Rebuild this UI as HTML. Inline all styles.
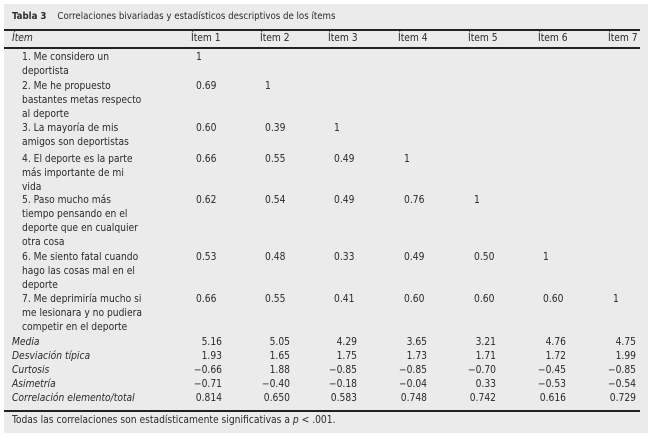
<!DOCTYPE html>
<html><head><meta charset="utf-8"><style>
body{margin:0;width:654px;height:438px;background:#fff;position:relative;overflow:hidden;font-family:"DejaVu Sans Condensed","Liberation Sans",sans-serif;font-size:10.2px;color:#2a2a2a}
#box{position:absolute;left:4px;top:4px;width:644px;height:429px;background:#ebebeb}
.t{position:absolute;white-space:nowrap;line-height:14px}
.r{text-align:right;width:50px}
.i{font-style:italic}
.rule{position:absolute;left:4px;width:636px;height:1.5px;background:#222}
</style></head><body>
<div id="box"></div>
<div class="t" style="left:12px;top:10px;font-size:9.6px"><b>Tabla 3</b>&nbsp;&nbsp;&nbsp; Correlaciones bivariadas y estadísticos descriptivos de los ítems</div>
<div class="rule" style="top:29px"></div>
<div class="t i" style="left:12px;top:32px">Ítem</div>
<div class="t" style="left:191px;top:32px">Ítem 1</div>
<div class="t" style="left:260px;top:32px">Ítem 2</div>
<div class="t" style="left:328px;top:32px">Ítem 3</div>
<div class="t" style="left:398px;top:32px">Ítem 4</div>
<div class="t" style="left:468px;top:32px">Ítem 5</div>
<div class="t" style="left:538px;top:32px">Ítem 6</div>
<div class="t" style="left:608px;top:32px">Ítem 7</div>
<div class="rule" style="top:47px"></div>

<div class="t" style="left:22px;top:51px">1. Me considero un<br>deportista</div>
<div class="t" style="left:196px;top:51px">1</div>

<div class="t" style="left:22px;top:80px">2. Me he propuesto<br>bastantes metas respecto<br>al deporte</div>
<div class="t" style="left:196px;top:80px">0.69</div><div class="t" style="left:265px;top:80px">1</div>

<div class="t" style="left:22px;top:122px">3. La mayoría de mis<br>amigos son deportistas</div>
<div class="t" style="left:196px;top:122px">0.60</div><div class="t" style="left:265px;top:122px">0.39</div><div class="t" style="left:334px;top:122px">1</div>

<div class="t" style="left:22px;top:153px">4. El deporte es la parte<br>más importante de mi<br>vida</div>
<div class="t" style="left:196px;top:153px">0.66</div><div class="t" style="left:265px;top:153px">0.55</div><div class="t" style="left:334px;top:153px">0.49</div><div class="t" style="left:404px;top:153px">1</div>

<div class="t" style="left:22px;top:194px">5. Paso mucho más<br>tiempo pensando en el<br>deporte que en cualquier<br>otra cosa</div>
<div class="t" style="left:196px;top:194px">0.62</div><div class="t" style="left:265px;top:194px">0.54</div><div class="t" style="left:334px;top:194px">0.49</div><div class="t" style="left:404px;top:194px">0.76</div><div class="t" style="left:474px;top:194px">1</div>

<div class="t" style="left:22px;top:251px">6. Me siento fatal cuando<br>hago las cosas mal en el<br>deporte</div>
<div class="t" style="left:196px;top:251px">0.53</div><div class="t" style="left:265px;top:251px">0.48</div><div class="t" style="left:334px;top:251px">0.33</div><div class="t" style="left:404px;top:251px">0.49</div><div class="t" style="left:474px;top:251px">0.50</div><div class="t" style="left:543px;top:251px">1</div>

<div class="t" style="left:22px;top:293px">7. Me deprimiría mucho si<br>me lesionara y no pudiera<br>competir en el deporte</div>
<div class="t" style="left:196px;top:293px">0.66</div><div class="t" style="left:265px;top:293px">0.55</div><div class="t" style="left:334px;top:293px">0.41</div><div class="t" style="left:404px;top:293px">0.60</div><div class="t" style="left:474px;top:293px">0.60</div><div class="t" style="left:543px;top:293px">0.60</div><div class="t" style="left:613px;top:293px">1</div>

<div class="t i" style="left:12px;top:336px">Media</div>
<div class="t i" style="left:12px;top:350px">Desviación típica</div>
<div class="t i" style="left:12px;top:364px">Curtosis</div>
<div class="t i" style="left:12px;top:378px">Asimetría</div>
<div class="t i" style="left:12px;top:392px">Correlación elemento/total</div>

<div class="t r" style="left:172px;top:336px">5.16<br>1.93<br>−0.66<br>−0.71<br>0.814</div>
<div class="t r" style="left:240px;top:336px">5.05<br>1.65<br>1.88<br>−0.40<br>0.650</div>
<div class="t r" style="left:307px;top:336px">4.29<br>1.75<br>−0.85<br>−0.18<br>0.583</div>
<div class="t r" style="left:377px;top:336px">3.65<br>1.73<br>−0.85<br>−0.04<br>0.748</div>
<div class="t r" style="left:446px;top:336px">3.21<br>1.71<br>−0.70<br>0.33<br>0.742</div>
<div class="t r" style="left:516px;top:336px">4.76<br>1.72<br>−0.45<br>−0.53<br>0.616</div>
<div class="t r" style="left:586px;top:336px">4.75<br>1.99<br>−0.85<br>−0.54<br>0.729</div>

<div class="rule" style="top:410px"></div>
<div class="t" style="left:12px;top:414px">Todas las correlaciones son estadísticamente significativas a <i>p</i> &lt; .001.</div>
</body></html>
